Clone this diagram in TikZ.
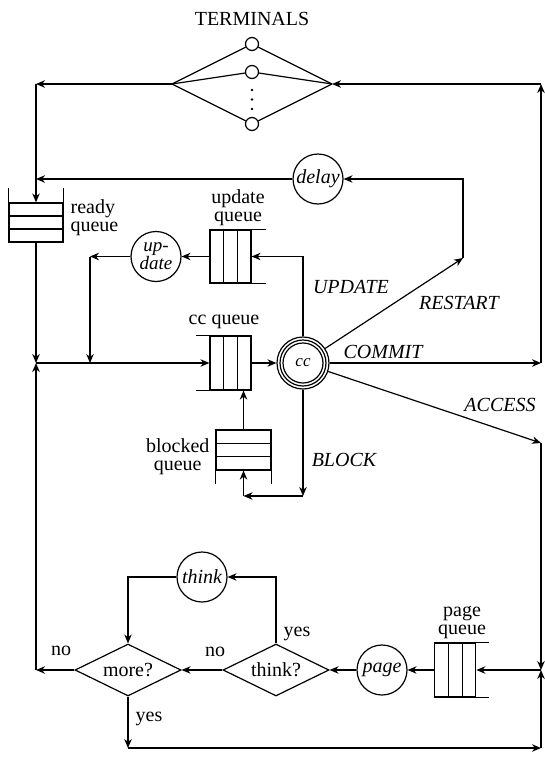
\documentclass[tikz,border=0pt]{standalone}
\usepackage{fontspec}
\setmainfont{Liberation Serif}
\usetikzlibrary{arrows.meta,positioning,shapes.geometric,calc}

\begin{document}
\begin{tikzpicture}[
        x=1pt, y=-1pt,
        >={Stealth[length=9pt,width=7.5pt]},
        line width=1.2pt,
        font=\fontsize{20}{16}\selectfont,
        caption/.style={
            align=center,
            inner sep=0pt,
            font=\fontsize{20}{18}\selectfont
        },
        flowtag/.style={
            font=\fontsize{20}{16}\selectfont\itshape,
            inner sep=0pt
        },
        station/.style={
            circle,
            draw,
            align=center,
            minimum size=50pt,
            inner sep=0pt,
            font=\fontsize{20}{16}\selectfont\itshape
        },
        terminal/.style={
            circle,
            draw,
            minimum size=13pt,
            inner sep=0pt
        },
        decision/.style={
            diamond,
            draw,
            aspect=2,
            minimum width=106pt,
            minimum height=52pt,
            inner sep=0pt
        },
        vqueue/.style={
            draw,
            minimum width=41pt,
            minimum height=53pt,
            inner sep=0pt,
            path picture={
                \foreach \f in {0.333,0.667}
                    \draw ($(path picture bounding box.north west)!\f!(path picture bounding box.north east)$)
                       -- ($(path picture bounding box.south west)!\f!(path picture bounding box.south east)$);
            }
        },
        hqueue/.style={
            draw,
            minimum width=54pt,
            minimum height=39pt,
            inner sep=0pt,
            path picture={
                \foreach \f in {0.333,0.667}
                    \draw ($(path picture bounding box.north west)!\f!(path picture bounding box.south west)$)
                       -- ($(path picture bounding box.north east)!\f!(path picture bounding box.south east)$);
            }
        },
        arrow/.style={
            ->,
            line width=1.2pt
        }
    ]
    \useasboundingbox (0,0) rectangle (545,758);

    % terminals
    \node[caption] (termtitle) at (252,19) {TERMINALS};
    \coordinate (termL) at (172,84);
    \coordinate (termR) at (332,84);
    \node[terminal] (t1) at (252,44) {};
    \node[terminal] (t2) at (252,72) {};
    \node[terminal] (tn) at (252,124) {};
    \foreach \t in {t1,t2,tn}
        \draw (termL) -- (\t) -- (termR);
    \foreach \y in {90,99.5,109}
        \fill (252,\y) circle (1.4pt);

    % queues
    \node[hqueue] (readyq) at (36,222.5) {};
    \draw (readyq.north west) -- ++(0,-14) (readyq.north east) -- ++(0,-14);
    \node[caption, align=left, anchor=west] (readylbl) at (70,218) {ready\\queue};

    \node[vqueue] (updq) at (230.5,256.5) {};
    \draw (updq.north east) -- ++(14,0) (updq.south east) -- ++(14,0);
    \node[caption] (updlbl) at (238,208) {update\\queue};

    \node[vqueue, minimum height=54pt] (ccq) at (230.5,363) {};
    \draw (ccq.north west) -- ++(-13,0) (ccq.south west) -- ++(-13,0);
    \node[caption] (cclbl) at (224,322) {cc queue};

    \node[hqueue, minimum width=55pt, minimum height=40pt] (blockq) at (243.5,450) {};
    \draw (blockq.south west) -- ++(0,13) (blockq.south east) -- ++(0,13);
    \node[caption, anchor=east] (blocklbl) at (210,457) {blocked\\queue};

    \node[vqueue, minimum height=54pt] (pageq) at (455.3,670) {};
    \draw (pageq.north east) -- ++(13,0) (pageq.south east) -- ++(13,0);
    \node[caption] (pagelbl) at (462,622) {page\\queue};

    % servers
    \node[station] (delay) at (318,179) {delay};
    \node[station, font=\fontsize{19}{14}\selectfont\itshape] (upd) at (156,256.5) {up-\\date};
    \node[station, minimum size=52pt, font=\fontsize{17}{17}\selectfont\itshape] (cc) at (303,363) {cc};
    \draw (cc.center) circle (23pt) (cc.center) circle (20pt);
    \node[station] (page) at (382,670) {page};
    \node[station] (think) at (202,577) {think};

    % decisions
    \node[decision] (thinkq) at (276,670) {think?};
    \node[decision] (moreq) at (128,670) {more?};

    % corners
    \coordinate (tlc) at (36,84);
    \coordinate (dlj) at (36,179);
    \coordinate (lj) at (36,363);
    \coordinate (nlc) at (36,670);
    \coordinate (upc) at (90,256.5);
    \coordinate (upj) at (90,363);
    \coordinate (trc) at (541,84);
    \coordinate (cmc) at (541,363);
    \coordinate (rsc) at (463,258);
    \coordinate (acc) at (541,443);
    \coordinate (pgj) at (541,670);
    \coordinate (brc) at (541,748);
    \coordinate (blc) at (128,748);
    \coordinate (bk1) at (303,496);
    \coordinate (bk2) at (blockq.south |- bk1);

    % connectors
    \draw[arrow] (termL) -- (tlc);
    \draw[arrow] (tlc) -- (readyq.north);
    \draw[arrow] (delay) -- (dlj);
    \draw[arrow] (readyq) -- (lj);
    \draw[arrow] (lj) -- (ccq);
    \draw[arrow] (moreq) -- (nlc);
    \draw[arrow] (nlc) -- (lj);
    \draw[arrow] (updq) -- (upd);
    \draw[arrow] (upd) -- (upc);
    \draw[arrow] (upc) -- (upj);
    \draw[arrow] (cc.north) |- (updq.east);
    \draw[arrow] (cc) -- (rsc);
    \draw[arrow] (rsc) |- (delay.east);
    \draw[arrow] (cc) -- (cmc);
    \draw[arrow] (cmc) -- (trc);
    \draw[arrow] (trc) -- (termR);
    \draw[arrow] (cc) -- (acc);
    \draw[arrow] (acc) -- (pgj);
    \draw[arrow] (pgj) -- (pageq.east);
    \draw[arrow] (ccq) -- (cc);
    \draw[arrow] (blockq.north) -- (blockq.north |- ccq.south);
    \draw[arrow] (cc) -- (bk1);
    \draw[arrow] (bk1) -- (bk2);
    \draw[arrow] (bk2) -- (blockq.south);
    \draw[arrow] (pageq) -- (page);
    \draw[arrow] (page) -- (thinkq);
    \draw[arrow] (thinkq.north) |- (think.east);
    \draw[arrow] (think.west) -| (moreq.north);
    \draw[arrow] (thinkq) -- (moreq);
    \draw[arrow] (moreq.south) -- (blc);
    \draw[arrow] (blc) -- (brc);
    \draw[arrow] (brc) -- (pgj);

    % labels
    \node[flowtag] (updtag) at (351,287) {UPDATE};
    \node[flowtag] (rsttag) at (459,303) {RESTART};
    \node[flowtag] (cmttag) at (383,352) {COMMIT};
    \node[flowtag] (acctag) at (500,405) {ACCESS};
    \node[flowtag] (blktag) at (344,460) {BLOCK};
    \node[caption] (thinkyes) at (297,634) {yes};
    \node[caption] (thinkno) at (215,652) {no};
    \node[caption] (moreno) at (61,651) {no};
    \node[caption] (moreyes) at (149,719) {yes};
\end{tikzpicture}
\end{document}
